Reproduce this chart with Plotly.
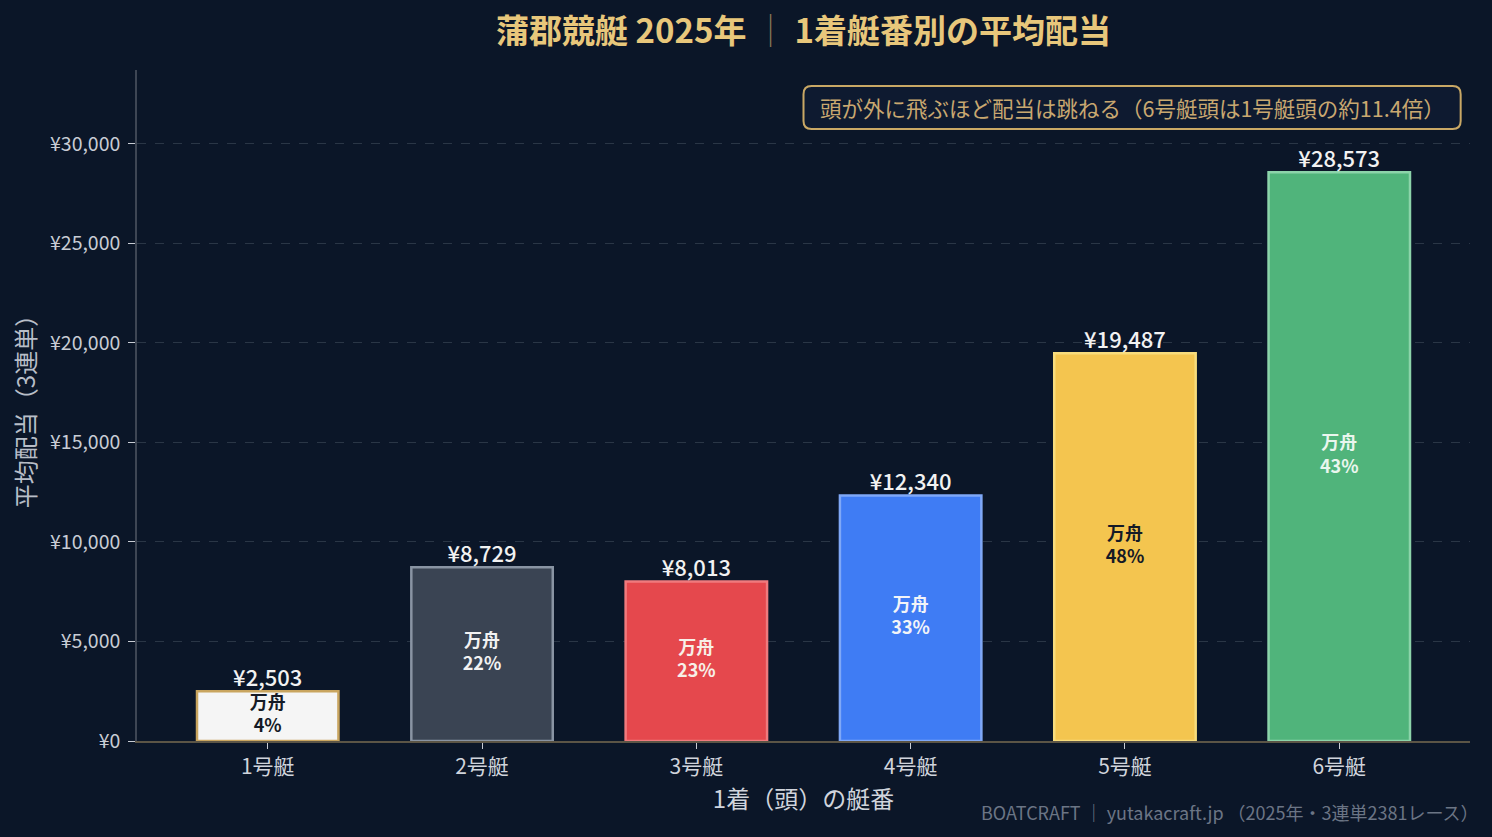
import plotly.graph_objects as go

# data
boats = ['1号艇', '2号艇', '3号艇', '4号艇', '5号艇', '6号艇']
avg_payout = [2503, 8729, 8013, 12340, 19487, 28573]
manshu_pct = [4, 22, 23, 33, 48, 43]
y_ticks = [0, 5000, 10000, 15000, 20000, 25000, 30000]

bar_colors = ['#f5f5f5', '#3a4453', '#e5484d', '#3f7cf4', '#f4c54f', '#50b47b']
edge_colors = ['#c9a55f', '#8994a3', '#f07a7d', '#7fa8f7', '#f8dc7c', '#8cd4aa']
inner_text_colors = ['#141a26', '#f2f2f2', '#f7f0e8', '#f2f4f8', '#141a26', '#eaf6ee']

BG = '#0b1628'
FONT = 'Noto Sans CJK JP'

fig = go.Figure()

fig.add_trace(go.Bar(
    x=boats, y=avg_payout,
    width=0.66,
    marker=dict(color=bar_colors, line=dict(color=edge_colors, width=2.5)),
    hoverinfo='skip',
))

# value labels above each bar
fig.add_trace(go.Scatter(
    x=boats, y=avg_payout,
    mode='text',
    text=[f'¥{v:,}' for v in avg_payout],
    textposition='top center',
    textfont=dict(family=FONT, size=22, color='#f2f2f2', weight=500),
    hoverinfo='skip',
))

# 万舟 share in the middle of each bar
fig.add_trace(go.Scatter(
    x=boats, y=[v / 2 for v in avg_payout],
    mode='text',
    text=[f'万舟<br>{p}%' for p in manshu_pct],
    textposition='middle center',
    textfont=dict(family=FONT, size=18, color=inner_text_colors, weight=600),
    hoverinfo='skip',
))

# rounded note box (paper coords)
x0, x1, y0, y1 = 0.5, 0.993, 0.912, 0.976
rx, ry = 0.006, 0.012
box = (f'M {x0+rx},{y0} L {x1-rx},{y0} Q {x1},{y0} {x1},{y0+ry} '
       f'L {x1},{y1-ry} Q {x1},{y1} {x1-rx},{y1} L {x0+rx},{y1} '
       f'Q {x0},{y1} {x0},{y1-ry} L {x0},{y0+ry} Q {x0},{y0} {x0+rx},{y0} Z')
fig.add_shape(type='path', xref='paper', yref='paper', path=box,
              line=dict(color='#c9a865', width=2), fillcolor='#0e1a30')
fig.add_annotation(
    x=(x0 + x1) / 2, y=(y0 + y1) / 2, xref='paper', yref='paper',
    xanchor='center', yanchor='middle',
    text='頭が外に飛ぶほど配当は跳ねる（6号艇頭は1号艇頭の約11.4倍）',
    showarrow=False, font=dict(family=FONT, size=21.5, color='#c9a870'),
)

fig.add_annotation(
    x=1.008, y=-0.106, xref='paper', yref='paper', xanchor='right', yanchor='middle',
    text='BOATCRAFT ｜ yutakacraft.jp （2025年・3連単2381レース）',
    showarrow=False, font=dict(family=FONT, size=18, color='#6b7585'),
)

fig.update_layout(
    width=1492, height=837,
    paper_bgcolor=BG, plot_bgcolor=BG,
    margin=dict(l=137, r=22, t=70, b=96),
    showlegend=False,
    title=dict(
        text='蒲郡競艇 2025年 <span style="color:#8a7a58;font-weight:300">｜</span> 1着艇番別の平均配当',
        x=0.5, xref='paper', y=0.963, yanchor='middle',
        font=dict(family=FONT, size=33, color='#e8c77b', weight='bold'),
    ),
    font=dict(family=FONT, color='#c8ccd4'),
)

fig.update_xaxes(
    range=[-0.61, 5.61],
    showline=True, linecolor='#5c5546', linewidth=1.5,
    ticks='outside', ticklen=6, tickcolor='#c8ccd4',
    tickfont=dict(family=FONT, size=21, color='#d0d4dc'),
    title=dict(text='1着（頭）の艇番', font=dict(family=FONT, size=24, color='#d0d4dc'), standoff=10),
    showgrid=False, zeroline=False,
)

fig.update_yaxes(
    range=[0, 33716],
    tickvals=y_ticks,
    ticktext=[f'¥{v:,}' for v in y_ticks],
    showline=True, linecolor='#3e4654', linewidth=1.5,
    ticks='outside', ticklen=7, tickcolor='#c8ccd4', ticklabelstandoff=4,
    tickfont=dict(family=FONT, size=19.5, color='#c8ccd4'),
    title=dict(text='平均配当（3連単）', font=dict(family=FONT, size=24, color='#b8bec8'), standoff=8),
    showgrid=True, gridcolor='#2a3646', griddash='dash', gridwidth=1,
    zeroline=False,
)

fig.write_html('out.html', config={'displayModeBar': False},
               post_script="document.body.style.margin='0';")
